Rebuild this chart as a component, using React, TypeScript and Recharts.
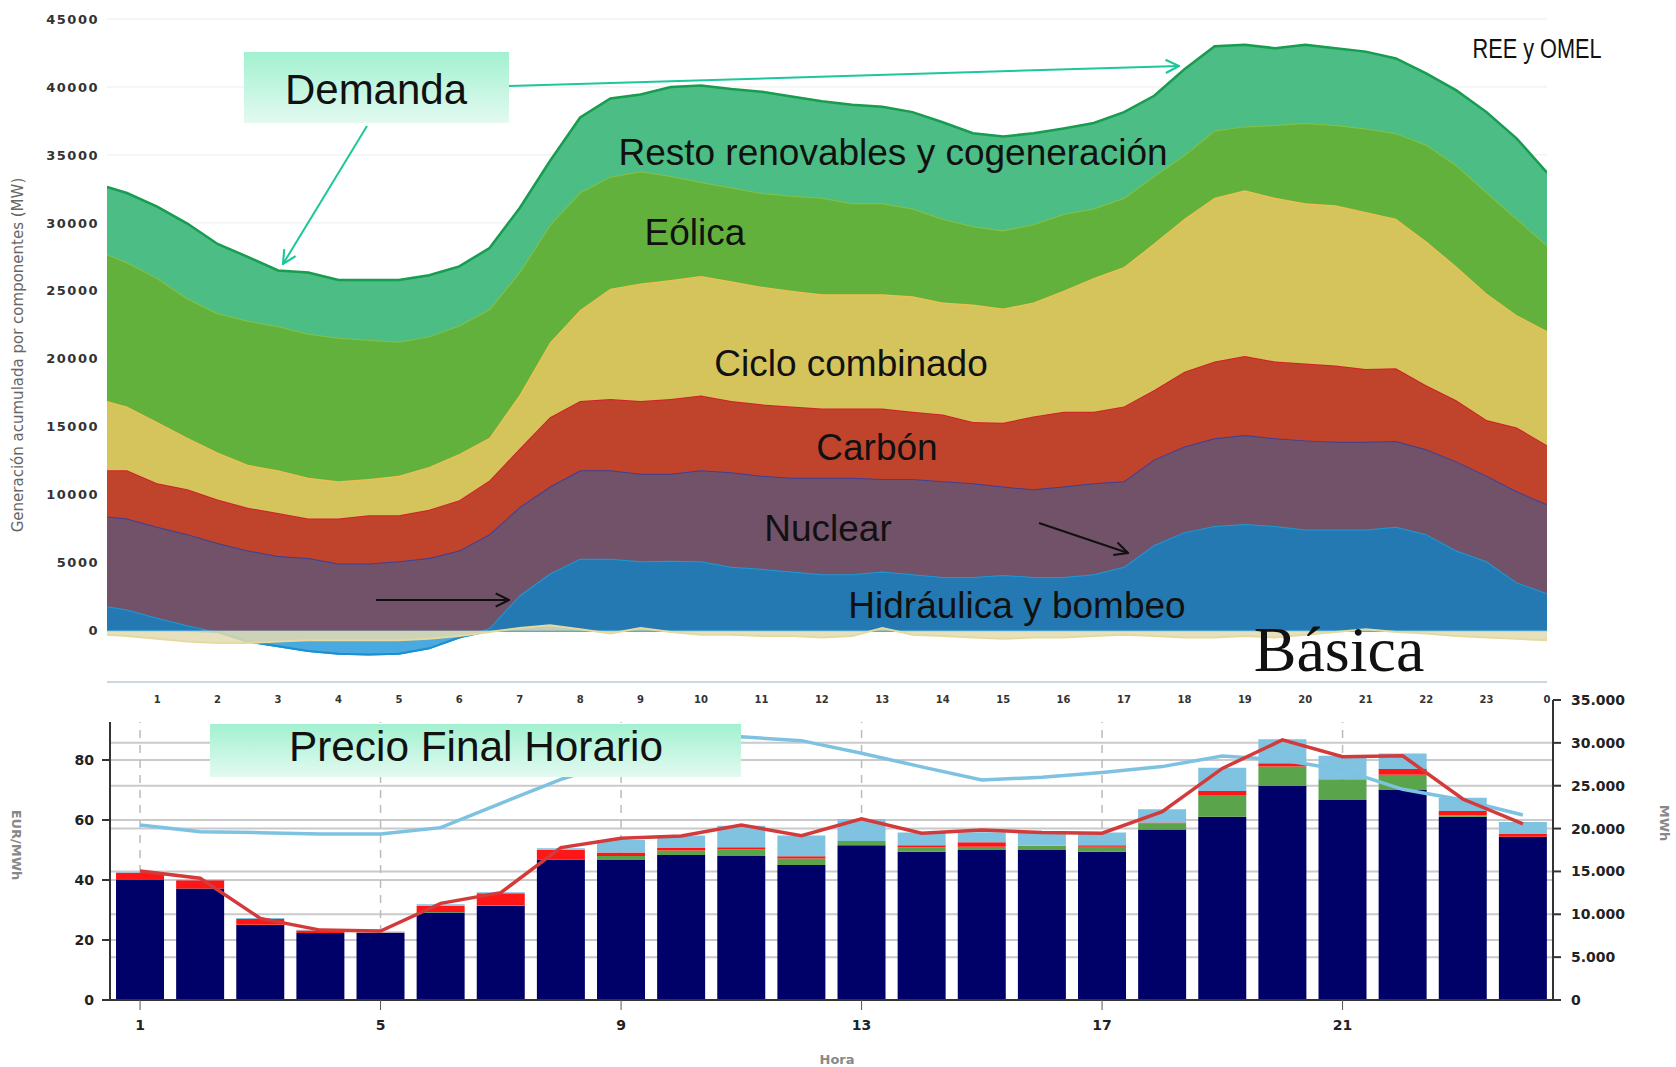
import {
  Area,
  Bar,
  CartesianGrid,
  ComposedChart,
  Line,
  XAxis,
  YAxis,
} from 'recharts';

// --- Generación acumulada (MW), cada media hora ---
const HOURS = [
  0.17, 0.5, 1, 1.5, 2, 2.5, 3, 3.5, 4, 4.5, 5, 5.5, 6, 6.5, 7, 7.5, 8, 8.5, 9, 9.5, 10, 10.5, 11, 11.5,
  12, 12.5, 13, 13.5, 14, 14.5, 15, 15.5, 16, 16.5, 17, 17.5, 18, 18.5, 19, 19.5, 20, 20.5, 21, 21.5, 22,
  22.5, 23, 23.5, 24,
];
const HIDRAULICA = [
  1800, 1550, 950, 400, -100, -800, -1150, -1500, -1700, -1750, -1700, -1300, -500, 200, 2600, 4200, 5300,
  5300, 5100, 5150, 5100, 4700, 4550, 4350, 4150, 4150, 4350, 4150, 3950, 3950, 4100, 3950, 3950, 4150, 4700,
  6300, 7250, 7700, 7850, 7700, 7450, 7450, 7450, 7650, 7100, 5900, 5100, 3550, 2750,
];
const NUCLEAR = [
  6600, 6700, 6700, 6700, 6550, 6700, 6650, 6850, 6650, 6700, 6800, 6650, 6400, 6900, 6500, 6400, 6500, 6500,
  6450, 6400, 6700, 6950, 6850, 6900, 7100, 7100, 6800, 7000, 7050, 6900, 6500, 6450, 6650, 6700, 6300, 6300,
  6300, 6450, 6550, 6450, 6550, 6450, 6450, 6300, 6250, 6550, 6300, 6700, 6550,
];
const CARBON = [
  3400, 3550, 3200, 3300, 3200, 3150, 3150, 2900, 3300, 3550, 3400, 3550, 3700, 3950, 4300, 5100, 5100, 5250,
  5350, 5500, 5500, 5250, 5250, 5250, 5100, 5100, 5200, 4950, 4900, 4500, 4700, 5350, 5500, 5250, 5500, 5100,
  5500, 5650, 5800, 5650, 5650, 5600, 5350, 5350, 4700, 4500, 4100, 4700, 4350,
];
const CICLO = [
  5100, 4700, 4500, 3800, 3450, 3150, 3150, 3000, 2750, 2650, 2900, 3150, 3400, 3150, 3950, 5500, 6700, 8100,
  8650, 8750, 8800, 8800, 8650, 8500, 8400, 8400, 8400, 8500, 8250, 8650, 8400, 8400, 8900, 9850, 10250,
  10800, 11250, 12050, 12200, 12050, 11800, 11800, 11550, 11000, 10600, 9850, 9300, 8250, 8400,
];
const EOLICA = [
  10800, 10600, 10600, 10250, 10250, 10600, 10600, 10600, 10550, 10250, 9850, 9600, 9450, 9450, 9050, 8650,
  8650, 8250, 8250, 7650, 6900, 6900, 6900, 7000, 7100, 6700, 6700, 6450, 6150, 5750, 5750, 5750, 5650, 5100,
  5100, 4950, 4700, 4950, 4700, 5350, 5900, 5900, 6150, 6300, 7100, 7450, 7450, 7100, 6300,
];
const RESTO = [
  4950, 5100, 5250, 5500, 5100, 4700, 4100, 4500, 4250, 4400, 4550, 4500, 4350, 4500, 4700, 4700, 5500, 5750,
  5650, 6550, 7100, 7250, 7450, 7300, 7100, 7250, 7100, 7100, 7100, 6850, 6900, 6700, 6300, 6300, 6300, 5900,
  6300, 6200, 6000, 5650, 5750, 5650, 5650, 5500, 5250, 5500, 5900, 5900, 5350,
];
const INTERCAMBIOS = [
  -300, -400, -600, -800, -900, -900, -800, -700, -700, -700, -700, -600, -400, -100, 200, 400, 100, -200, 200,
  -100, -300, -300, -400, -400, -500, -400, 200, -300, -400, -500, -600, -500, -500, -400, -300, -400, -500,
  -500, -400, -500, -300, -100, 100, -100, -200, -400, -500, -600, -700,
];
const HOUR_TICKS = [1, 2, 3, 4, 5, 6, 7, 8, 9, 10, 11, 12, 13, 14, 15, 16, 17, 18, 19, 20, 21, 22, 23, 24];
const MW_TICKS = [0, 5000, 10000, 15000, 20000, 25000, 30000, 35000, 40000, 45000];

// --- Precio final horario ---
const HORAS = [1, 2, 3, 4, 5, 6, 7, 8, 9, 10, 11, 12, 13, 14, 15, 16, 17, 18, 19, 20, 21, 22, 23, 24];
const MERCADO = [
  40.0, 37.2, 25.0, 22.3, 22.3, 29.2, 31.4, 46.8, 46.7, 48.3, 48.0, 45.0, 51.6, 49.4, 50.0, 50.0, 49.4, 56.8,
  61.1, 71.3, 66.7, 70.2, 61.1, 54.4,
];
const GARANTIA = [0, 0, 0.1, 0, 0, 0.1, 0.1, 0, 1.3, 1.5, 2.2, 2.2, 1.4, 1.4, 1.1, 1.4, 1.7, 2.1, 7.2, 6.5, 6.9, 4.9, 0.5, 0];
const RESTRICCIONES = [2.4, 2.7, 1.9, 0.9, 0.2, 2.1, 4.1, 3.3, 1.2, 0.9, 0.7, 0.7, 0, 0.8, 1.5, 0, 0.5, 0.3, 1.4, 1.1, 0, 1.9, 1.4, 0.9];
const OTROS = [0.2, 0.2, 0.3, 0.2, 0.3, 0.5, 0.3, 0.5, 4.1, 4.1, 7.2, 6.9, 7.3, 4.2, 3.3, 4.5, 4.2, 4.4, 7.7, 8.0, 7.8, 5.2, 4.4, 4.0];
const PRECIO_FINAL = [
  43.0, 40.6, 27.2, 23.3, 23.0, 32.2, 35.8, 50.8, 53.9, 54.7, 58.3, 54.8, 60.4, 55.6, 56.7, 55.8, 55.6, 62.8,
  77.2, 86.7, 81.1, 81.4, 67.0, 58.7,
];
const ENERGIA = [
  20420, 19640, 19520, 19370, 19370, 20110, 22950, 25750, 27900, 29600, 30700, 30260, 28780, 27200, 25670,
  25980, 26530, 27230, 28470, 28000, 26840, 24580, 23340, 21590,
];
const EUR_TICKS = [0, 20, 40, 60, 80];
const MWH_TICKS = [0, 5000, 10000, 15000, 20000, 25000, 30000, 35000];
const EUR_GRID = [20, 40, 60, 80];
const MWH_GRID = [5000, 10000, 15000, 20000, 25000, 30000];
const HORA_GUIDES = [1, 5, 9, 13, 17, 21];

const genData = HOURS.map((t, i) => ({
  t,
  hidraulica: HIDRAULICA[i],
  bombeo: Math.min(HIDRAULICA[i], 0),
  nuclear: NUCLEAR[i],
  carbon: CARBON[i],
  ciclo: CICLO[i],
  eolica: EOLICA[i],
  resto: RESTO[i],
  intercambios: INTERCAMBIOS[i],
}));

const priceData = HORAS.map((h, i) => ({
  h,
  mercado: MERCADO[i],
  garantia: GARANTIA[i],
  restricciones: RESTRICCIONES[i],
  otros: OTROS[i],
  precio: PRECIO_FINAL[i],
  energia: ENERGIA[i],
}));

const thousands = (v: number) => String(v).replace(/\B(?=(\d{3})+(?!\d))/g, '.');

// dashed hour guides at the band centres of the category axis
const hourGuides = ({ xAxis, offset }: any) => {
  const scale = xAxis?.scale;
  if (typeof scale === 'function') {
    const half = typeof scale.bandwidth === 'function' ? scale.bandwidth() / 2 : 0;
    const pts = HORA_GUIDES.map((h) => scale(h)).filter((v) => typeof v === 'number' && !isNaN(v));
    if (pts.length === HORA_GUIDES.length) return pts.map((v) => v + half);
  }
  const band = offset.width / HORAS.length;
  return HORA_GUIDES.map((h) => offset.left + (HORAS.indexOf(h) + 0.5) * band);
};

const BOLD_TICK = { fontSize: 14, fontWeight: 'bold', fill: '#222', fontFamily: 'DejaVu Sans' };
const SANS = "'Liberation Sans', Arial, sans-serif";

function Annotations() {
  return (
    <svg
      width={1676}
      height={1067}
      style={{ position: 'absolute', left: 0, top: 0, pointerEvents: 'none' }}
    >
      <defs>
        <linearGradient id="mint" x1="0" y1="0" x2="0" y2="1">
          <stop offset="0%" stopColor="#a2f1d0" />
          <stop offset="100%" stopColor="#e3faf1" />
        </linearGradient>
        <marker id="tealHead" viewBox="0 0 12 12" refX="11" refY="6" markerWidth="16" markerHeight="16"
          markerUnits="userSpaceOnUse" orient="auto">
          <path d="M1,1 L11,6 L1,11" fill="none" stroke="#1cc79a" strokeWidth="1.6" />
        </marker>
        <marker id="blackHead" viewBox="0 0 12 12" refX="11" refY="6" markerWidth="16" markerHeight="16"
          markerUnits="userSpaceOnUse" orient="auto">
          <path d="M1,1 L11,6 L1,11" fill="none" stroke="#111" strokeWidth="1.6" />
        </marker>
      </defs>

      {/* títulos de ejes */}
      <text transform="translate(23,355) rotate(-90)" textAnchor="middle" fontSize={15}
        fontFamily="DejaVu Sans" fill="#666">
        Generación acumulada por componentes (MW)
      </text>
      <text transform="translate(12,845) rotate(90)" textAnchor="middle" fontSize={13} fontWeight="bold"
        fontFamily="DejaVu Sans" fill="#888">
        EUR/MWh
      </text>
      <text transform="translate(1660,823) rotate(90)" textAnchor="middle" fontSize={13} fontWeight="bold"
        fontFamily="DejaVu Sans" fill="#888">
        MWh
      </text>
      <text x={837} y={1064} textAnchor="middle" fontSize={13} fontWeight="bold" fontFamily="DejaVu Sans"
        fill="#888">
        Hora
      </text>

      {/* etiquetas de capas */}
      <g fontFamily={SANS} fontSize={37} fill="#111" textAnchor="middle">
        <text x={893} y={165}>Resto renovables y cogeneración</text>
        <text x={695} y={245}>Eólica</text>
        <text x={851} y={376}>Ciclo combinado</text>
        <text x={877} y={460}>Carbón</text>
        <text x={828} y={541}>Nuclear</text>
        <text x={1017} y={618}>Hidráulica y bombeo</text>
      </g>
      <text x={1537} y={58} textAnchor="middle" fontFamily="'Liberation Sans Narrow', 'Liberation Sans'"
        fontSize={27} fill="#111" textLength={129} lengthAdjust="spacingAndGlyphs">
        REE y OMEL
      </text>
      <text x={1339} y={671} textAnchor="middle" fontFamily="'Liberation Serif', serif" fontSize={64} fill="#111">
        Básica
      </text>

      {/* flechas */}
      <line x1={509} y1={86} x2={1179} y2={66} stroke="#1cc79a" strokeWidth={2} markerEnd="url(#tealHead)" />
      <line x1={367} y1={126} x2={283} y2={264} stroke="#1cc79a" strokeWidth={2} markerEnd="url(#tealHead)" />
      <line x1={376} y1={600} x2={509} y2={600} stroke="#111" strokeWidth={2} markerEnd="url(#blackHead)" />
      <line x1={1039} y1={523} x2={1128} y2={553} stroke="#111" strokeWidth={2} markerEnd="url(#blackHead)" />

      {/* recuadros */}
      <rect x={244} y={52} width={265} height={71} fill="url(#mint)" />
      <text x={376} y={104} textAnchor="middle" fontFamily={SANS} fontSize={42} fill="#111">
        Demanda
      </text>
      <rect x={210} y={724} width={531} height={53} fill="url(#mint)" />
      <text x={476} y={761} textAnchor="middle" fontFamily={SANS} fontSize={42} fill="#111"
        textLength={374} lengthAdjust="spacingAndGlyphs">
        Precio Final Horario
      </text>
    </svg>
  );
}

function GenerationChart() {
  return (
    <div style={{ position: 'absolute', left: 0, top: 0, width: 1552, height: 722, background: '#fff' }}>
      <ComposedChart width={1552} height={722} data={genData} margin={{ top: 19, right: 5, bottom: 0, left: 37 }}>
        <CartesianGrid vertical={false} stroke="#ececec" />
        <XAxis
          type="number"
          dataKey="t"
          domain={[0.17, 24]}
          ticks={HOUR_TICKS}
          allowDataOverflow
          tickFormatter={(v: number) => (v === 24 ? '0' : String(v))}
          axisLine={{ stroke: '#cbd7e3', strokeWidth: 2 }}
          tickLine={false}
          tickMargin={8}
          height={40}
          tick={{ fontSize: 10, fontWeight: 'bold', fill: '#333', fontFamily: 'DejaVu Sans' }}
        />
        <YAxis
          type="number"
          domain={[-3776, 45000]}
          ticks={MW_TICKS}
          allowDataOverflow
          axisLine={false}
          tickLine={false}
          width={70}
          tick={{ fontSize: 13, fontWeight: 'bold', fill: '#333', fontFamily: 'DejaVu Sans', letterSpacing: 1.5 }}
        />
        <Area type="linear" dataKey="hidraulica" stackId="gen" fill="#2579b2" stroke="#1c9ad8" strokeWidth={2}
          fillOpacity={1} isAnimationActive={false} />
        <Area type="linear" dataKey="nuclear" stackId="gen" fill="#725268" stroke="#3d3f98" strokeWidth={2}
          fillOpacity={1} isAnimationActive={false} />
        <Area type="linear" dataKey="carbon" stackId="gen" fill="#c0442c" stroke="#d0202a" strokeWidth={2}
          fillOpacity={1} isAnimationActive={false} />
        <Area type="linear" dataKey="ciclo" stackId="gen" fill="#d5c45c" stroke="#f4c050" strokeWidth={2}
          fillOpacity={1} isAnimationActive={false} />
        <Area type="linear" dataKey="eolica" stackId="gen" fill="#63b13d" stroke="#84c244" strokeWidth={2}
          fillOpacity={1} isAnimationActive={false} />
        <Area type="linear" dataKey="resto" stackId="gen" fill="#4cbd84" stroke="#179c50" strokeWidth={2.5}
          fillOpacity={1} isAnimationActive={false} />
        <Area type="linear" dataKey="bombeo" baseValue={0} fill="#4aa9de" stroke="#1a8fd2" strokeWidth={2}
          fillOpacity={1} isAnimationActive={false} />
        <Area type="linear" dataKey="intercambios" baseValue={0} fill="#e3dbb0" stroke="#e6d9a0" strokeWidth={2}
          fillOpacity={0.85} isAnimationActive={false} />
      </ComposedChart>
    </div>
  );
}

function PriceChart() {
  return (
    <div style={{ position: 'absolute', left: 0, top: 0, width: 1676, height: 1067, background: '#fff' }}>
      <ComposedChart width={1676} height={1067} data={priceData} barCategoryGap="10%"
        margin={{ top: 700, right: 43, bottom: 37, left: 50 }}>
        <CartesianGrid yAxisId="left" vertical={false} horizontalValues={EUR_GRID} stroke="#cacaca" strokeWidth={2} />
        <CartesianGrid yAxisId="right" vertical={false} horizontalValues={MWH_GRID} stroke="#cacaca" strokeWidth={2} />
        <CartesianGrid yAxisId="left" horizontal={false} verticalCoordinatesGenerator={hourGuides} stroke="#bbb"
          strokeWidth={1.5} strokeDasharray="8 7" />
        <XAxis
          dataKey="h"
          interval={3}
          axisLine={{ stroke: '#333', strokeWidth: 2 }}
          tickLine={{ stroke: '#555' }}
          tickSize={10}
          tickMargin={10}
          height={30}
          tick={BOLD_TICK}
        />
        <YAxis
          yAxisId="left"
          domain={[0, 100]}
          ticks={EUR_TICKS}
          allowDataOverflow
          width={60}
          axisLine={{ stroke: '#333', strokeWidth: 2 }}
          tickLine={{ stroke: '#333', strokeWidth: 2 }}
          tickSize={8}
          tickMargin={8}
          tick={BOLD_TICK}
        />
        <YAxis
          yAxisId="right"
          orientation="right"
          domain={[0, 35000]}
          ticks={MWH_TICKS}
          allowDataOverflow
          width={80}
          tickFormatter={thousands}
          axisLine={{ stroke: '#333', strokeWidth: 2 }}
          tickLine={{ stroke: '#333', strokeWidth: 2 }}
          tickSize={8}
          tickMargin={10}
          tick={BOLD_TICK}
        />
        <Line yAxisId="right" dataKey="energia" stroke="#7ec2e2" strokeWidth={3.5} dot={false}
          isAnimationActive={false} />
        <Bar yAxisId="left" dataKey="mercado" stackId="p" fill="#000069" isAnimationActive={false} />
        <Bar yAxisId="left" dataKey="garantia" stackId="p" fill="#5aa54b" isAnimationActive={false} />
        <Bar yAxisId="left" dataKey="restricciones" stackId="p" fill="#ff1616" isAnimationActive={false} />
        <Bar yAxisId="left" dataKey="otros" stackId="p" fill="#7fc3e0" isAnimationActive={false} />
        <Line yAxisId="left" dataKey="precio" stroke="#d43a3a" strokeWidth={3.5} dot={false}
          isAnimationActive={false} />
      </ComposedChart>
    </div>
  );
}

export default function App() {
  return (
    <div style={{ position: 'absolute', left: 0, top: 0, width: 1676, height: 1067, background: '#fff', overflow: 'hidden' }}>
      <PriceChart />
      <GenerationChart />
      <Annotations />
    </div>
  );
}
